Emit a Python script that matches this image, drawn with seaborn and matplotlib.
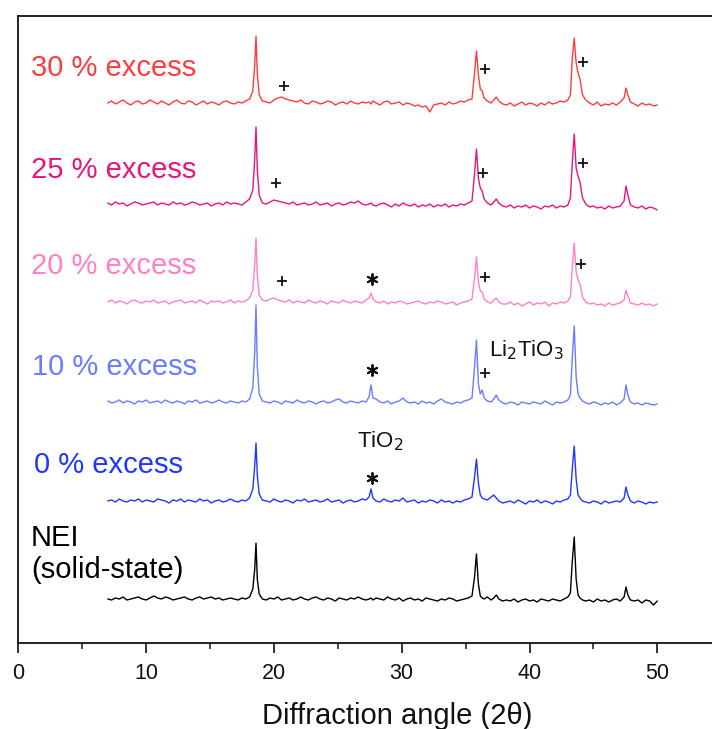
import numpy as np
import pandas as pd
import matplotlib
matplotlib.use("Agg")
import matplotlib.pyplot as plt
import seaborn as sns
from matplotlib.ticker import MultipleLocator

# ---------------- data ----------------
two_theta = [
    7.0, 7.3, 7.6, 7.9, 8.2, 8.5, 8.8, 9.1, 9.4, 9.7, 10.0, 10.3, 10.6, 10.9, 11.2, 11.5, 11.8, 12.1, 12.4,
    12.7, 13.0, 13.3, 13.6, 13.9, 14.2, 14.5, 14.8, 15.1, 15.4, 15.7, 16.0, 16.3, 16.6, 16.9, 17.2, 17.5, 17.8, 18.1,
    18.35, 18.5, 18.6, 18.7, 18.85,
    19.1, 19.4, 19.7, 20.0, 20.3, 20.6, 20.9, 21.2, 21.5, 21.8, 22.1, 22.4, 22.7, 23.0, 23.3, 23.6, 23.9, 24.2,
    24.5, 24.8, 25.1, 25.4, 25.7, 26.0, 26.3, 26.6, 26.9, 27.2,
    27.45, 27.6, 27.75,
    28.0, 28.3, 28.6, 28.9, 29.2, 29.5, 29.8, 30.1, 30.4, 30.7, 31.0, 31.3, 31.6, 31.9, 32.2, 32.5, 32.8, 33.1,
    33.4, 33.7, 34.0, 34.3, 34.6, 34.9, 35.2,
    35.5, 35.7, 35.85, 36.0, 36.15, 36.3, 36.45, 36.7,
    37.0, 37.2, 37.4, 37.6, 37.9,
    38.2, 38.5, 38.8, 39.1, 39.4, 39.7, 40.0, 40.3, 40.6, 40.9, 41.2, 41.5, 41.8, 42.1, 42.4, 42.7, 43.0,
    43.2, 43.35, 43.5, 43.65, 43.8, 43.95, 44.15, 44.4,
    44.7, 45.0, 45.3, 45.6, 45.9, 46.2, 46.5, 46.8, 47.1,
    47.4, 47.55, 47.7, 47.9,
    48.2, 48.5, 48.8, 49.1, 49.4, 49.7, 50.0,
]

int_30 = [
    0, 2, -1, 1, 3, 0, -2, 1, 2, -1, 0, 3, 1, -1, 2, 0, -2, 1, 3, 0, -1, 2, 1, -2, 0, 2, -1, 1, 0, -2, 1, 2, 0, -1, 1, 0, 2, 4,
    12, 38, 67, 30, 8,
    2, 1, 0, 3, 5, 6, 4, 3, 2, 1, 3, 0, -1, 2, 1, -1, 0, 2, 1, -2, 0, 1, -1, 2, 0, -1, 1, 0,
    1, -1, 2,
    0, -2, 1, 2, -1, 0, 1, -2, 0, -1, -3, -2, -4, -3, -9, -2, -1, 0, -2, 1, -1, 0, 2, 1, 3,
    4, 30, 52, 28, 14, 12, 5, 2,
    0, 3, 6, 2, -1,
    -2, 0, -3, -1, 1, -2, 0, -1, -3, 0, -2, 1, -1, 0, 2, 1, 3,
    8, 45, 65, 40, 30, 24, 8, 3,
    0, -2, 1, -3, -1, -2, 0, -2, 1,
    5, 15, 8, 1,
    -1, -3, 0, -2, -1, -3, -2,
]
int_25 = [
    1, -1, 2, 0, 1, -2, 0, 2, 1, -1, 0, 1, 2, -1, 1, 0, -1, 2, 0, 1, -1, 0, 2, 1, -1, 0, 1, -2, 0, 1, -1, 2, 0, 1, 0, -1, 2, 5,
    14, 45, 77, 35, 9,
    1, 0, 2, 4, 3, 2, 1, 0, 2, -1, 0, 1, -1, 0, 2, -1, 0, 1, -2, 0, 1, -1, 0, 2, 1, 3, 0, -1,
    0, 1, -1,
    -2, 0, 1, -1, -3, 0, -2, 1, -1, -2, 0, -3, -1, -2, 0, -3, -1, -2, 0, -3, -1, -2, 0, -1, 1,
    3, 30, 55, 26, 16, 13, 5, 1,
    -1, 2, 5, 1, -2,
    -3, -1, -4, -2, -3, -1, -4, -2, -3, -5, -2, -3, -1, -4, -2, -3, -1,
    6, 42, 70, 36, 28, 22, 6, 0,
    -3, -2, -4, -3, -5, -2, -4, -3, -2,
    3, 18, 9, -1,
    -3, -4, -2, -5, -3, -4, -6,
]
int_20 = [
    0, 2, -1, 1, 0, -2, 1, 2, 0, -1, 1, 0, 2, -1, 0, 1, -2, 0, 1, 2, -1, 0, 1, -1, 2, 0, -2, 1, 0, 1, -1, 0, 2, -1, 1, 0, 1, 4,
    12, 38, 64, 28, 7,
    2, 1, 3, 4, 2, 1, 0, 2, -1, 1, 0, -1, 2, 0, -1, 1, 0, -2, 1, 0, -1, 2, 0, -1, 1, 0, -1, 2,
    4, 9, 3,
    0, -1, 1, -2, 0, -1, 1, 0, -2, -1, 0, 1, -1, -2, 0, -1, 1, 0, -2, -1, 0, -3, -1, 0, 1,
    3, 24, 45, 20, 11, 10, 3, 0,
    -1, 2, 4, 0, -2,
    -2, 0, -3, -1, -4, -2, 0, -3, -1, -2, 0, -4, -1, -2, 0, -1, 1,
    5, 35, 59, 30, 22, 18, 5, 0,
    -2, -1, -3, -2, -4, -1, -3, -2, -1,
    2, 12, 6, -1,
    -2, -3, -1, -3, -2, -4, -2,
]
int_10 = [
    1, -1, 0, 2, -1, 1, 0, -2, 1, 0, 2, -1, 0, 1, -1, 2, 0, -1, 1, 0, -2, 1, 0, 2, -1, 0, 1, -1, 0, 2, 0, -1, 1, 0, -1, 1, 0, 3,
    14, 50, 97, 36, 8,
    1, 0, -1, 1, 0, -2, 1, 0, -1, 2, 0, -1, 1, 0, -2, 0, 1, -1, 0, 2, 3, 0, -1, 1, 0, -1, 1, 0,
    5, 17, 4,
    3, 0, -1, 1, -2, 0, 1, 4, 0, -1, 0, -2, 1, -1, 0, -2, 1, 3, 0, -1, -2, 0, -1, 1, 2,
    4, 35, 62, 18, 8, 12, 4, 1,
    0, 3, 7, 2, -1,
    -2, 0, -1, -3, 0, -1, -2, 0, -1, -2, 1, -1, -3, 0, -1, 0, 2,
    7, 45, 76, 25, 8, 4, 1, -1,
    -2, 0, -1, -3, -1, -2, 0, -3, -1,
    3, 17, 7, 0,
    -2, -1, -3, -1, -2, -3, -2,
]
int_0 = [
    0, 1, -1, 2, 0, -1, 1, 0, 2, -1, 1, 0, -1, 2, 1, 0, -2, 1, 0, 2, -1, 1, 0, -1, 2, 0, 1, -2, 0, 1, -1, 0, 2, 0, -1, 1, 0, 3,
    12, 35, 58, 26, 7,
    1, 0, -1, 2, 0, -1, 1, 0, -2, 1, 0, 2, -1, 0, 1, -1, 0, 2, -1, 0, 1, -2, 0, 1, -1, 0, 2, 1,
    4, 12, 3,
    0, -1, 2, 0, -1, 1, 0, 3, -1, 0, 1, -2, 0, -1, 1, 0, -2, 1, -1, 0, -2, 0, -1, 1, 2,
    4, 24, 42, 18, 6, 3, 2, 1,
    4, 6, 3, 0, -2,
    -1, 0, -2, 1, -1, -3, 0, -1, 1, -2, 0, -1, -3, 0, -1, 1, 2,
    6, 32, 55, 22, 6, 3, 0, -1,
    -2, 0, -1, -3, 0, -2, -1, 0, -1,
    3, 14, 6, 0,
    -2, 0, -1, -3, -1, -2, -1,
]
int_nei = [
    0, -1, 1, 0, 2, -1, 0, 1, 2, 0, -1, 1, 3, 1, 0, 2, 1, -1, 0, 1, 2, 0, -1, 1, 2, 0, 1, 2, 0, 1, -1, 0, 1, 0, -1, 1, 0, 2,
    10, 30, 56, 20, 5,
    0, -1, 1, 0, 2, -1, 0, 1, -1, 0, 2, 0, -1, 1, 2, 0, -1, 1, 0, -2, 1, 0, -1, 1, 0, 2, 0, -1,
    0, 1, -1,
    1, 0, -1, 2, 0, -1, 1, -2, 0, 1, -1, 0, -2, 1, 0, -1, -2, 0, -1, 1, 0, -2, -1, 0, 1,
    3, 22, 45, 15, 3, 1, 0, 2,
    -1, 1, 4, 0, -2,
    -1, -2, 0, -3, -1, 0, -2, -1, -3, 0, -1, -2, 0, -1, -2, 0, 2,
    6, 38, 62, 20, 4, 1, -1, -2,
    -1, -3, 0, -2, -1, -3, -1, 0, -2,
    2, 12, 4, -1,
    -2, -1, -4, -1, -2, -6, -2,
]

samples = ["30 % excess", "25 % excess", "20 % excess", "10 % excess", "0 % excess", "NEI"]
series = [int_30, int_25, int_20, int_10, int_0, int_nei]
stack_offsets = [540, 439, 341, 241, 142, 44]
colors = ["#FF3B3B", "#E8157D", "#FF80C4", "#6A7CFF", "#2236FF", "#000000"]
label_texts = ["30 % excess", "25 % excess", "20 % excess", "10 % excess", "0 % excess", "NEI\n(solid-state)"]

# phase markers: (2theta, height above axis bottom, symbol)
marker_x = [20.8, 36.5, 44.2, 20.2, 36.4, 44.2, 20.6, 36.5, 44.0, 36.5, 27.7, 27.7, 27.7]
marker_y = [557, 574, 581, 460, 470, 480, 362, 366, 379, 270, 364, 273, 165]
marker_sym = ["+", "+", "+", "+", "+", "+", "+", "+", "+", "+", "*", "*", "*"]

x_ticks = [0, 10, 20, 30, 40, 50]

# ---------------- build table ----------------
rows = []
for name, vals, off in zip(samples, series, stack_offsets):
    assert len(vals) == len(two_theta), (name, len(vals))
    for t, v in zip(two_theta, vals):
        rows.append({"two_theta": t, "intensity": off + v, "sample": name})
df = pd.DataFrame(rows)

# ---------------- plot ----------------
sns.set_style("white")
plt.rcParams["font.family"] = ["Liberation Sans", "DejaVu Sans"]

W, H = 712, 729
fig = plt.figure(figsize=(W / 100, H / 100), dpi=100)
px_per_unit = 12.78
ax_left, ax_bottom, ax_top = 18.3, 643.0, 15.7
ax = fig.add_axes([ax_left / W, (H - ax_bottom) / H, 55 * px_per_unit / W, (ax_bottom - ax_top) / H])

sns.lineplot(data=df, x="two_theta", y="intensity", hue="sample", hue_order=samples,
             palette=colors, estimator=None, sort=False, linewidth=1.0, legend=False, ax=ax)

ax.set_xlim(0, 55)
ax.set_ylim(0, ax_bottom - ax_top)

# sample labels
label_pos = [(1.0, 575), (1.0, 473), (1.0, 377), (1.1, 276), (1.2, 178), (1.0, 89)]
for txt, col, (lx, ly) in zip(label_texts, colors, label_pos):
    ax.text(lx, ly, txt, color=col, fontsize=21, ha="left", va="center", linespacing=1.2)

# phase markers
for mx, my, ms in zip(marker_x, marker_y, marker_sym):
    if ms == "+":
        ax.scatter([mx], [my], marker="+", s=55, color="#111111", linewidths=1.3, zorder=5)
    else:
        ax.scatter([mx], [my], marker=(6, 2, 0), s=60, color="#111111", linewidths=1.4, zorder=5)

ax.text(36.8, 643 - 350, "Li$_2$TiO$_3$", fontsize=16, ha="left", va="center", color="#111111")
ax.text(26.5, 643 - 441, "TiO$_2$", fontsize=16, ha="left", va="center", color="#111111")

# axes styling
ax.set_xticks(x_ticks)
ax.xaxis.set_minor_locator(MultipleLocator(5))
ax.set_yticks([])
ax.tick_params(axis="x", which="major", direction="out", length=7.5, width=1.2,
               labelsize=15.5, pad=7, bottom=True, colors="#111111")
ax.tick_params(axis="x", which="minor", direction="out", length=4.5, width=1.2, bottom=True)
for side in ["left", "bottom", "top", "right"]:
    ax.spines[side].set_visible(True)
    ax.spines[side].set_color("#111111")
    ax.spines[side].set_linewidth(1.3)
ax.set_ylabel("")
ax.set_xlabel("Diffraction angle (2\u03b8)", fontsize=21, color="#111111")
ax.xaxis.label.set_va("center")
ax.xaxis.set_label_coords((397 - ax_left) / (55 * px_per_unit), -(716 - ax_bottom) / (ax_bottom - ax_top))

fig.savefig("out.png", dpi=100)
